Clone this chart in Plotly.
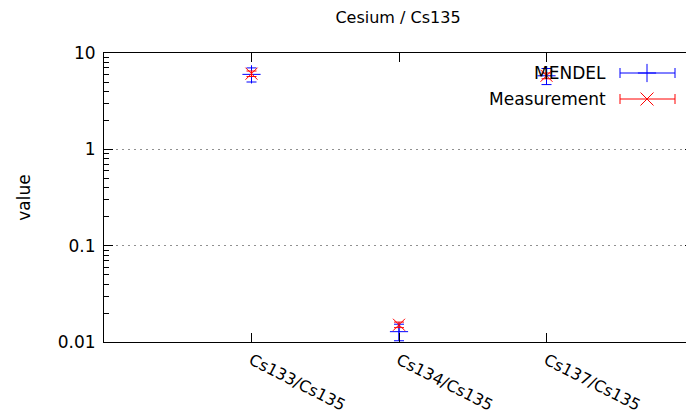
import plotly.graph_objects as go

categories = ["Cs133/Cs135", "Cs134/Cs135", "Cs137/Cs135"]
mendel_values = [6.0, 0.0128, 5.8]
mendel_errors = [1.0, 0.0025, 1.1]
measurement_values = [6.1, 0.0151, 5.8]
measurement_errors = [0.4, 0.0010, 0.4]
ytick_vals = [0.01, 0.1, 1, 10]
ytick_text = ["0.01", "0.1", "1", "10"]

FONT = "DejaVu Sans"
OFF = 8  # browser body margin
W, H = 694 - OFF, 412 - OFF
L, T = 104 - OFF, 53 - OFF
R = 0
B = H - T - (342 - 53)

fig = go.Figure()
fig.add_trace(go.Scatter(
    x=categories, y=mendel_values, mode="markers", name="MENDEL",
    marker=dict(symbol="cross-thin", size=13, line=dict(color="blue", width=1), color="blue"),
    error_y=dict(type="data", array=mendel_errors, visible=True, color="blue", thickness=1, width=5),
    showlegend=False,
))
fig.add_trace(go.Scatter(
    x=categories, y=measurement_values, mode="markers", name="Measurement",
    marker=dict(symbol="x-thin", size=12, line=dict(color="red", width=1), color="red"),
    error_y=dict(type="data", array=measurement_errors, visible=True, color="red", thickness=1, width=5),
    showlegend=False,
))

pw = W - L - R
ph = H - T - B
def px(x):  # page pixel -> paper
    return (x - OFF - L) / pw
def py(y):
    return (H - B - (y - OFF)) / ph

# custom gnuplot-style legend
legend_items = [("MENDEL", "blue", "cross-thin", 73), ("Measurement", "red", "x-thin", 99)]
for name, col, sym, yy in legend_items:
    fig.add_annotation(x=px(608), y=py(yy), xref="paper", yref="paper", text=name,
                       showarrow=False, xanchor="right", yanchor="middle",
                       font=dict(family=FONT, size=17, color="black"))
    fig.add_shape(type="line", xref="paper", yref="paper", x0=px(620), x1=px(675), y0=py(yy), y1=py(yy),
                  line=dict(color=col, width=1))
    for xc in (620, 675):
        fig.add_shape(type="line", xref="paper", yref="paper", x0=px(xc), x1=px(xc), y0=py(yy - 5), y1=py(yy + 5),
                      line=dict(color=col, width=1))
    fig.add_trace(go.Scatter(x=[px(647)], y=[py(yy)], xaxis="x2", yaxis="y2", mode="markers",
                             marker=dict(symbol=sym, size=13, line=dict(color=col, width=1), color=col),
                             showlegend=False, hoverinfo="skip"))

fig.update_layout(
    width=W, height=H,
    margin=dict(l=L, r=R, t=T, b=B, autoexpand=False),
    paper_bgcolor="white", plot_bgcolor="white",
    font=dict(family=FONT, size=17, color="black"),
    title=dict(text="Cesium / Cs135", x=(398 - OFF) / W, xref="container", xanchor="center",
               y=1 - (17 - OFF) / H, yref="container", yanchor="middle",
               font=dict(family=FONT, size=16, color="black"), automargin=False),
    xaxis=dict(type="category", categoryorder="array", categoryarray=categories,
               range=[-1, 3], showgrid=False, zeroline=False, automargin=False,
               showline=True, linecolor="black", linewidth=1, mirror="ticks",
               ticks="inside", ticklen=9, tickcolor="black", tickangle=27,
               tickfont=dict(family=FONT, size=16), ticklabelstandoff=2),
    yaxis=dict(type="log", range=[-2, 1], tickvals=ytick_vals, ticktext=ytick_text, automargin=False,
               showgrid=True, gridcolor="#909090", griddash="2px,4px", gridwidth=1,
               zeroline=False, showline=True, linecolor="black", linewidth=1, mirror="ticks",
               ticks="inside", ticklen=9, tickcolor="black",
               minor=dict(ticks="inside", ticklen=5, tickcolor="black", dtick="D1", showgrid=False),
               tickfont=dict(family=FONT, size=17), ticklabelstandoff=4,
               title=dict(text="value", font=dict(family=FONT, size=17), standoff=22)),
    xaxis2=dict(range=[0, 1], overlaying="x", visible=False, fixedrange=True),
    yaxis2=dict(range=[0, 1], overlaying="y", visible=False, fixedrange=True),
)

fig.write_html("out.html")
